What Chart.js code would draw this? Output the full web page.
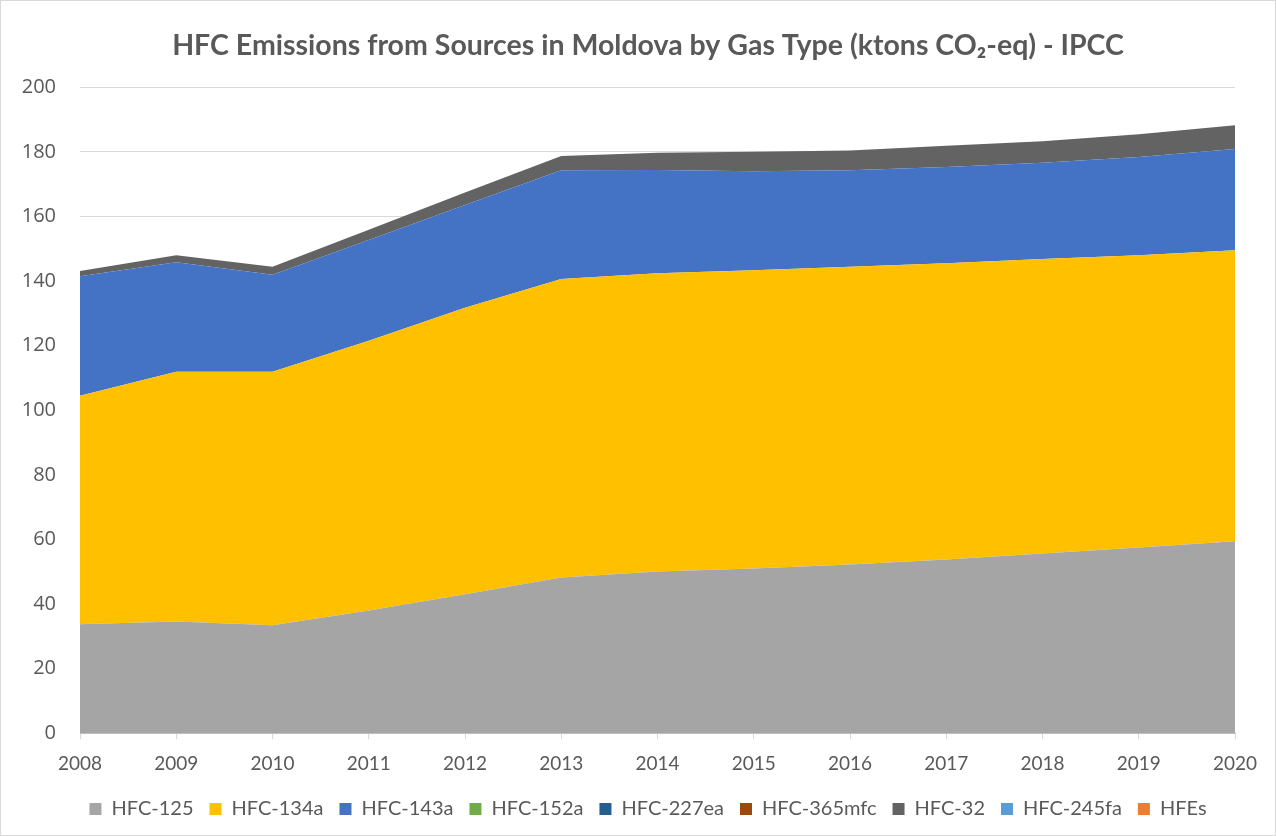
<!DOCTYPE html>
<html>
<head>
<meta charset="utf-8">
<script src="https://cdn.jsdelivr.net/npm/chart.js@4.4.1/dist/chart.umd.min.js"></script>
<style>
  html, body { margin: 0; padding: 0; background: #ffffff; }
  #wrap { position: relative; width: 1276px; height: 836px; box-sizing: border-box; border: 1px solid #d9d9d9; }
  canvas { display: block; }
</style>
</head>
<body>
<div id="wrap"><canvas id="c" width="1274" height="834"></canvas></div>
<script>
const years = ['2008','2009','2010','2011','2012','2013','2014','2015','2016','2017','2018','2019','2020'];
const hfc125   = [33.7, 34.6, 33.4, 38.0, 43.0, 48.2, 50.1, 51.0, 52.2, 53.8, 55.6, 57.5, 59.4];
const hfc134a  = [70.8, 77.3, 78.5, 83.5, 88.7, 92.4, 92.3, 92.3, 92.2, 91.7, 91.2, 90.5, 90.1];
const hfc143a  = [37.0, 33.9, 30.0, 31.2, 31.8, 33.7, 32.0, 30.7, 29.9, 29.8, 29.8, 30.4, 31.4];
const hfc152a  = [0, 0, 0, 0, 0, 0, 0, 0, 0, 0, 0, 0, 0];
const hfc227ea = [0, 0, 0, 0, 0, 0, 0, 0, 0, 0, 0, 0, 0];
const hfc365mfc= [0, 0, 0, 0, 0, 0, 0, 0, 0, 0, 0, 0, 0];
const hfc32    = [1.6, 2.2, 2.5, 3.2, 3.9, 4.4, 5.3, 6.0, 6.1, 6.6, 6.7, 7.0, 7.3];
const hfc245fa = [0, 0, 0, 0, 0, 0, 0, 0, 0, 0, 0, 0, 0];
const hfes     = [0, 0, 0, 0, 0, 0, 0, 0, 0, 0, 0, 0, 0];
const yTicks = [0, 20, 40, 60, 80, 100, 120, 140, 160, 180, 200];

const seriesDefs = [
  ['HFC-125', hfc125, '#A5A5A5'],
  ['HFC-134a', hfc134a, '#FFC000'],
  ['HFC-143a', hfc143a, '#4472C4'],
  ['HFC-152a', hfc152a, '#70AD47'],
  ['HFC-227ea', hfc227ea, '#255E91'],
  ['HFC-365mfc', hfc365mfc, '#9E480E'],
  ['HFC-32', hfc32, '#636363'],
  ['HFC-245fa', hfc245fa, '#5B9BD5'],
  ['HFEs', hfes, '#ED7D31']
];

const datasets = seriesDefs.map((s, i) => ({
  label: s[0],
  data: s[1],
  backgroundColor: s[2],
  borderColor: s[2],
  borderWidth: 0,
  pointRadius: 0,
  pointHoverRadius: 0,
  tension: 0,
  fill: i === 0 ? 'origin' : '-1'
}));

// Center the title and legend like the original (over the full chart width)
const blockShift = {
  id: 'blockShift',
  afterLayout(chart) {
    if (chart.titleBlock) { chart.titleBlock.left += 60; }
    if (chart.legend) { chart.legend.left += 60; }
  }
};

new Chart(document.getElementById('c'), {
  type: 'line',
  data: { labels: years, datasets },
  plugins: [blockShift],
  options: {
    responsive: false,
    animation: false,
    layout: { padding: { left: 0, right: 40, top: 12, bottom: 6 } },
    plugins: {
      title: {
        display: true,
        text: 'HFC Emissions from Sources in Moldova by Gas Type (ktons CO\u2082-eq) - IPCC',
        color: '#595959',
        font: { family: 'Lato', size: 28.5, weight: 'bold' },
        padding: { top: 16, bottom: 24 }
      },
      legend: {
        display: true,
        position: 'bottom',
        labels: {
          color: '#595959',
          font: { family: 'Lato', size: 20 },
          boxWidth: 12,
          boxHeight: 12,
          padding: 16
        }
      },
      tooltip: { enabled: false }
    },
    scales: {
      x: {
        type: 'category',
        offset: false,
        afterFit: (scale) => { scale.height = scale.height - 5; },
        grid: { drawOnChartArea: false, drawTicks: true, tickLength: 6, color: '#d9d9d9' },
        border: { display: true, color: '#bfbfbf', width: 1 },
        ticks: { color: '#595959', font: { family: 'Lato', size: 19 }, maxRotation: 0, padding: 13 }
      },
      y: {
        stacked: true,
        min: 0,
        max: 200,
        afterBuildTicks: (scale) => { scale.ticks = yTicks.map(v => ({ value: v })); },
        afterFit: (scale) => { scale.width = 79; },
        grid: { color: '#d9d9d9', drawTicks: false },
        border: { display: false },
        ticks: { color: '#595959', font: { family: 'Open Sans', size: 20 }, padding: 24 }
      }
    }
  }
});
</script>
</body>
</html>
